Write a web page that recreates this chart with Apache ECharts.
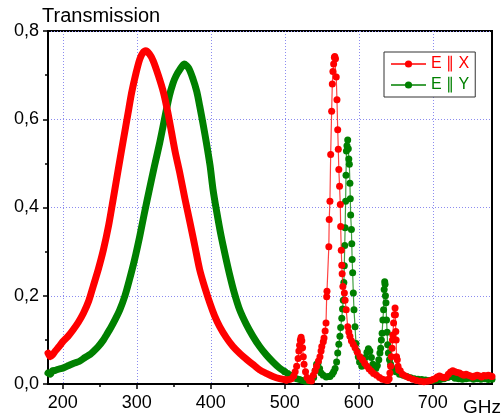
<!DOCTYPE html>
<html>
<head>
<meta charset="utf-8">
<script src="https://cdn.jsdelivr.net/npm/echarts@6/dist/echarts.min.js"></script>
<style>
  html, body { margin: 0; padding: 0; background: #fff; }
  #chart { width: 503px; height: 416px; }
</style>
</head>
<body>
<div id="chart"></div>
<script>
// Frequency axis (GHz) and transmission axis
const xMin = 180, xMax = 780;
const xMajorTicks = [200, 300, 400, 500, 600, 700];
const xMinorTicks = [250, 350, 450, 550, 650, 750];
const yMin = 0, yMax = 0.8, yStep = 0.2;

const nameX = 'E \u2225 X';
const nameY = 'E \u2225 Y';

// E || X : broad low-frequency resonance (densely sampled, drawn as a band)
const redBroadGHz = [180,183,186,190,195,200,207,214,221,228,235,241,248,255,262,268,275,282,288,293,299,304,308,312,317,322,329,336,342,347,352,358,365,372,379,385,392,399,405,412,421,430,440,449,458,466,475,484,493,502];
const redBroadT   = [0.070,0.062,0.066,0.075,0.085,0.096,0.108,0.123,0.140,0.161,0.188,0.221,0.260,0.305,0.360,0.418,0.487,0.555,0.612,0.660,0.705,0.736,0.750,0.755,0.748,0.733,0.700,0.661,0.615,0.570,0.525,0.479,0.420,0.365,0.308,0.259,0.218,0.182,0.155,0.130,0.105,0.085,0.068,0.055,0.043,0.032,0.024,0.017,0.012,0.009];

// E || X : sharp resonances above 500 GHz
const redSharpGHz = [502,506,509,512,514,516,518,519,520,521,522,523,524,525,526,528,530,533,536,538.5,541,543,545.5,547.5,549,550,552,553,554.5,555.7,556.6,557,559.5,560,561,562,563.3,564.2,565,566,567,567.5,568.5,569.5,570.5,571.5,572.3,573,574,575,575.5,576.3,577,577.5,578.5,580.5,581.5,583,585,586.5,588,590,592.5,595,598,601.5,605,608,611,614,617,620,624,628,632,636,639,641,642,643,644,645,645.5,646,647,648,649,649.5,650,650.5,651,652,653,654,656,659,663,668,673,678,683,688,693,697,700,703,706,709,712,715,718,721,724,727,730,733,736,739,742,745,748,751,754,757,760,763,766,769,772,775,778,780];
const redSharpT   = [0.009,0.010,0.012,0.018,0.028,0.040,0.058,0.075,0.088,0.100,0.106,0.098,0.082,0.062,0.045,0.028,0.015,0.008,0.007,0.020,0.030,0.040,0.052,0.062,0.075,0.085,0.096,0.104,0.120,0.138,0.198,0.210,0.311,0.373,0.414,0.520,0.618,0.680,0.708,0.725,0.740,0.742,0.737,0.696,0.644,0.576,0.532,0.486,0.448,0.407,0.357,0.303,0.269,0.250,0.221,0.206,0.190,0.168,0.130,0.118,0.108,0.098,0.090,0.082,0.072,0.062,0.055,0.047,0.040,0.034,0.029,0.024,0.020,0.015,0.011,0.009,0.008,0.012,0.025,0.040,0.062,0.081,0.100,0.111,0.138,0.157,0.172,0.157,0.119,0.100,0.062,0.055,0.040,0.032,0.030,0.022,0.018,0.014,0.011,0.008,0.006,0.005,0.006,0.008,0.010,0.012,0.016,0.018,0.016,0.014,0.016,0.022,0.027,0.030,0.028,0.026,0.025,0.022,0.020,0.022,0.020,0.018,0.016,0.018,0.020,0.018,0.016,0.019,0.018,0.020,0.018,0.017];

// E || Y : broad low-frequency resonance
const greenBroadGHz = [180,183,186,190,195,200,208,215,222,230,237,241,248,255,259,265,271,277,284,290,297,304,310,317,324,331,337,344,349,353,358,364,370,376,381,385,390,394,399,403,408,414,420,426,432,439,448,457,466,475,484,493,500];
const greenBroadT   = [0.025,0.022,0.030,0.031,0.034,0.036,0.042,0.047,0.051,0.060,0.067,0.073,0.085,0.100,0.111,0.128,0.147,0.168,0.200,0.236,0.282,0.335,0.385,0.441,0.495,0.547,0.597,0.653,0.682,0.698,0.712,0.725,0.716,0.691,0.663,0.630,0.585,0.547,0.495,0.441,0.390,0.335,0.288,0.244,0.205,0.168,0.135,0.108,0.085,0.066,0.050,0.036,0.028];

// E || Y : sharp resonances above 500 GHz
const greenSharpGHz = [500,504,508,512,516,520,524,528,532,536,539,541,543,545,547,549,552,556,559,561,564,566,568,570,571.5,573,574.5,575.5,577,578,579,579.8,580.4,581,581.5,582.2,582.7,583.3,584,585,585.8,586.5,587.2,588,588.5,589,590,590.5,591,591.7,592.6,593.5,594.9,596.2,597.5,599.3,601,604,607,609,611,613,615,617,619,621,623,625,627,628.5,629.5,630.5,631.5,632.5,633.5,634.3,635,635.5,636,636.7,637.5,638.3,639,640,641.5,643,646,650,655,660,665,670,675,680,685,690,695,700,705,710,715,720,725,730,735,740,745,750,755,760,765,770,775,780];
const greenSharpT   = [0.028,0.024,0.020,0.015,0.012,0.010,0.008,0.006,0.006,0.008,0.015,0.030,0.045,0.048,0.035,0.025,0.020,0.016,0.017,0.017,0.022,0.028,0.035,0.050,0.070,0.090,0.108,0.128,0.149,0.170,0.190,0.230,0.268,0.314,0.354,0.414,0.473,0.528,0.540,0.553,0.533,0.510,0.498,0.455,0.420,0.383,0.350,0.318,0.282,0.252,0.206,0.168,0.130,0.092,0.075,0.062,0.050,0.040,0.045,0.060,0.072,0.080,0.075,0.060,0.045,0.038,0.035,0.042,0.055,0.070,0.081,0.100,0.115,0.145,0.168,0.214,0.232,0.226,0.200,0.184,0.145,0.117,0.089,0.070,0.055,0.045,0.035,0.028,0.022,0.020,0.017,0.014,0.012,0.011,0.010,0.009,0.008,0.008,0.009,0.010,0.012,0.015,0.017,0.013,0.012,0.011,0.012,0.013,0.011,0.012,0.011,0.012,0.010,0.011];

const RED = '#ff0000';
const GREEN = '#008000';
const FONT = '"Liberation Sans", Arial, sans-serif';

function pairs(xs, ys) { return xs.map((x, i) => [x, ys[i]]); }

function dotSeries(name, color, xs, ys, z) {
  return {
    name, type: 'line', z,
    data: pairs(xs, ys),
    symbol: 'circle', symbolSize: 7, showSymbol: true,
    itemStyle: { color },
    lineStyle: { color, width: 1.2, opacity: 0.75 },
    emphasis: { disabled: true },
    silent: true
  };
}

function bandSeries(name, color, xs, ys, z) {
  return {
    name, type: 'line', z,
    data: pairs(xs, ys),
    showSymbol: false, smooth: 0.25,
    itemStyle: { color },
    lineStyle: { color, width: 7, cap: 'round', join: 'round' },
    emphasis: { disabled: true },
    silent: true
  };
}

const gridLine = { show: true, lineStyle: { color: '#8c8cf0', width: 1, type: [1, 2] } };

const chart = echarts.init(document.getElementById('chart'), null, { renderer: 'canvas' });
chart.setOption({
  animation: false,
  backgroundColor: '#fff',
  textStyle: { fontFamily: FONT },
  title: [
    { text: 'Transmission', left: 42, top: 6, padding: 0,
      textStyle: { fontFamily: FONT, fontSize: 20, fontWeight: 'normal', color: '#000' } },
    { text: 'GHz', left: 463, top: 398, padding: 0,
      textStyle: { fontFamily: FONT, fontSize: 19, fontWeight: 'normal', color: '#000' } }
  ],
  grid: { left: 48, right: 11, top: 31, bottom: 32, show: true,
          borderColor: '#000', borderWidth: 2, backgroundColor: 'transparent' },
  legend: {
    data: [
      { name: nameX, textStyle: { color: RED } },
      { name: nameY, textStyle: { color: GREEN } }
    ],
    orient: 'vertical', left: 384, top: 52,
    padding: [4, 6, 4, 6], itemGap: 5,
    itemWidth: 35, itemHeight: 9,
    backgroundColor: '#fff', borderColor: '#333', borderWidth: 1,
    textStyle: { fontFamily: FONT, fontSize: 16 },
    selectedMode: false
  },
  xAxis: [
    {
      type: 'value', min: xMin, max: xMax, splitNumber: 6,
      axisLine: { show: true, onZero: false, lineStyle: { color: '#000', width: 2 } },
      axisTick: { show: true, inside: false, length: 5, customValues: xMajorTicks,
                  lineStyle: { color: '#000', width: 1.5 } },
      axisLabel: { customValues: xMajorTicks, margin: 10, fontSize: 18, color: '#000', fontFamily: FONT },
      splitLine: gridLine
    },
    {
      type: 'value', min: xMin, max: xMax, position: 'bottom',
      axisLine: { show: false },
      axisTick: { show: true, inside: false, length: 3, customValues: xMinorTicks,
                  lineStyle: { color: '#000', width: 1.5 } },
      axisLabel: { show: false },
      splitLine: { show: false }
    }
  ],
  yAxis: {
    type: 'value', min: yMin, max: yMax, interval: yStep,
    axisLine: { show: true, onZero: false, lineStyle: { color: '#000', width: 2 } },
    axisTick: { show: true, inside: false, length: 5, lineStyle: { color: '#000', width: 1.5 } },
    minorTick: { show: true, splitNumber: 2, length: 3, lineStyle: { color: '#000', width: 1.5 } },
    axisLabel: { margin: 9, fontSize: 18, color: '#000', fontFamily: FONT,
                 formatter: v => v.toFixed(1).replace('.', ',') },
    splitLine: gridLine
  },
  series: [
    dotSeries(nameX, RED, redSharpGHz, redSharpT, 5),
    dotSeries(nameY, GREEN, greenSharpGHz, greenSharpT, 3),
    bandSeries(nameX, RED, redBroadGHz, redBroadT, 4),
    bandSeries(nameY, GREEN, greenBroadGHz, greenBroadT, 2)
  ]
});
</script>
</body>
</html>
